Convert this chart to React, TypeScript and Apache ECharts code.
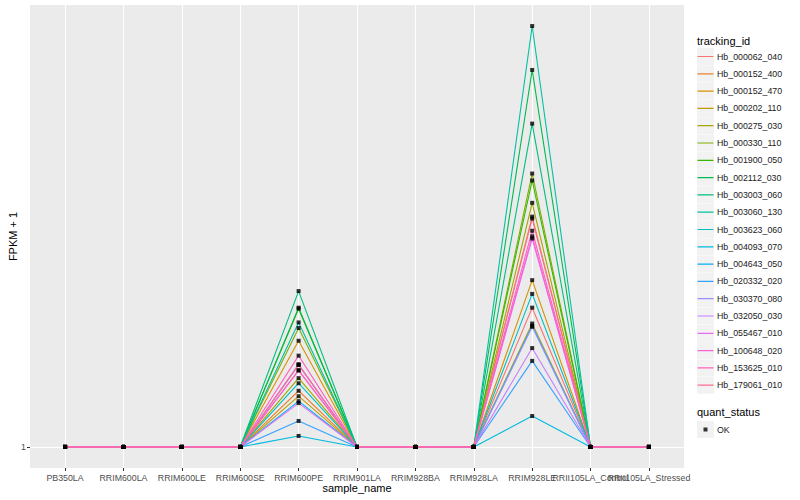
import React, { useEffect, useRef } from "react";
import * as echarts from "echarts";

const categories = [
  "PB350LA", "RRIM600LA", "RRIM600LE", "RRIM600SE", "RRIM600PE", "RRIM901LA",
  "RRIM928BA", "RRIM928LA", "RRIM928LE", "RRII105LA_Control", "RRII105LA_Stressed",
];
const trackingIds = [
  "Hb_000062_040", "Hb_000152_400", "Hb_000152_470", "Hb_000202_110", "Hb_000275_030",
  "Hb_000330_110", "Hb_001900_050", "Hb_002112_030", "Hb_003003_060", "Hb_003060_130",
  "Hb_003623_060", "Hb_004093_070", "Hb_004643_050", "Hb_020332_020", "Hb_030370_080",
  "Hb_032050_030", "Hb_055467_010", "Hb_100648_020", "Hb_153625_010", "Hb_179061_010",
];
const colors = [
  "#F8766D", "#EA8331", "#D89000", "#C09B00", "#A3A500", "#7CAE00", "#39B600", "#00BB4E",
  "#00BF7D", "#00C1A3", "#00BFC4", "#00BAE0", "#00B0F6", "#35A2FF", "#9590FF", "#C77CFF",
  "#E76BF3", "#FA62DB", "#FF62BC", "#FF6C91",
];
// FPKM + 1 in sample RRIM600PE and RRIM928LE (every other sample is 1)
const valuesRRIM600PE = [
  1.46, 1.32, 1.69, 1.285, 1.405, 1.8, 1.98, 1.99, 2.16, 1.85,
  1.37, 1.056, 1.254, 1.137, 1.5, 1.505, 1.242, 1.46, 1.57, 1.5,
];
const valuesRRIM928LE = [
  1.99, 3.12, 2.28, 1.84, 3.34, 3.86, 3.73, 6.44, 4.94, 8.0,
  2.13, 1.165, 1.82, 1.53, 1.81, 1.63, 2.8, 2.83, 2.91, 3.09,
];
const baselineValue = 1;
const yTicks = [1];
const statusLabels = ["OK"];

const FONT = "'Liberation Sans', Arial, Helvetica, sans-serif";

function seriesValues(i: number): number[] {
  return categories.map((c) =>
    c === "RRIM600PE" ? valuesRRIM600PE[i] : c === "RRIM928LE" ? valuesRRIM928LE[i] : baselineValue
  );
}

export default function App() {
  const ref = useRef<HTMLDivElement>(null);
  useEffect(() => {
    if (!ref.current) return;
    const chart = echarts.init(ref.current, undefined, { renderer: "svg" });
    const all = trackingIds.map((_, i) => seriesValues(i));
    const flat = all.flat();
    const top = Math.max(...flat);
    const bottom = Math.min(...flat);
    const lTop = Math.log10(top);
    const lBot = Math.log10(bottom);
    const span = lTop - lBot;
    const yMin = Math.pow(10, lBot - 0.05 * span);
    const yMax = Math.pow(10, lTop + 0.05 * span);
    const n = categories.length;

    // panel (ggplot discrete scale: 0.6 band padding on each side)
    const panelLeft = 30;
    const panelRight = 684;
    const panelTop = 5;
    const panelBottom = 468;
    const unit = (panelRight - panelLeft) / (n - 1 + 1.2);
    const firstX = panelLeft + 0.6 * unit;
    const lastX = firstX + (n - 1) * unit;

    const lineSeries = trackingIds.map((id, i) => ({
      name: id,
      type: "line",
      xAxisIndex: 1,
      yAxisIndex: 1,
      data: all[i],
      showSymbol: false,
      symbol: "none",
      color: colors[i],
      lineStyle: { color: colors[i], width: 1.1 },
      itemStyle: { color: colors[i] },
      z: 2,
      silent: true,
    }));
    const pointData: number[][] = [];
    all.forEach((vals) => vals.forEach((v, j) => pointData.push([j, v])));

    const linePath = "path://M0,0L0,0ZM17,17L17,17ZM0.5,7.9H16.5V9.1H0.5Z";
    const squarePath = "path://M0,0L0,0ZM17,17L17,17ZM6.5,6.5H10.5V10.5H6.5Z";

    const graphics: any[] = [];
    trackingIds.forEach((_, i) => {
      graphics.push({
        type: "rect",
        shape: { x: 697, y: 48 + i * 17.3, width: 17, height: 17 },
        style: { fill: "#F2F2F2" },
        z: -1,
        silent: true,
      });
    });
    graphics.push({
      type: "rect",
      shape: { x: 697, y: 421, width: 17, height: 17 },
      style: { fill: "#F2F2F2" },
      z: -1,
      silent: true,
    });
    graphics.push({
      type: "text",
      x: 697,
      y: 41,
      style: { text: "tracking_id", fontSize: 11, fontFamily: FONT, fill: "#000", verticalAlign: "middle" },
    });
    graphics.push({
      type: "text",
      x: 697,
      y: 412,
      style: { text: "quant_status", fontSize: 11, fontFamily: FONT, fill: "#000", verticalAlign: "middle" },
    });

    const gridCommon = {
      top: panelTop,
      bottom: 500 - panelBottom,
      containLabel: false,
      outerBoundsMode: "none",
      borderWidth: 0,
    };

    chart.setOption({
      animation: false,
      backgroundColor: "#FFFFFF",
      textStyle: { fontFamily: FONT },
      grid: [
        {
          ...gridCommon,
          left: panelLeft,
          right: 800 - panelRight,
          show: true,
          backgroundColor: "#EBEBEB",
        },
        {
          ...gridCommon,
          left: firstX,
          right: 800 - lastX,
          show: false,
        },
      ],
      xAxis: [
        { type: "value", gridIndex: 0, show: false, min: 0, max: 1 },
        {
          type: "category",
          gridIndex: 1,
          data: categories,
          boundaryGap: false,
          axisLine: { show: false },
          axisTick: { show: true, interval: 0, length: 3, lineStyle: { color: "#333333", width: 1 } },
          axisLabel: {
            interval: 0,
            fontSize: 8.8,
            color: "#4D4D4D",
            margin: 5,
            fontFamily: FONT,
          },
          splitLine: { show: true, interval: 0, lineStyle: { color: "#FFFFFF", width: 1.1 } },
          name: "sample_name",
          nameLocation: "middle",
          nameGap: 14,
          nameMoveOverlap: false,
          nameTextStyle: { fontSize: 11, color: "#000000", fontFamily: FONT },
        },
      ],
      yAxis: [
        {
          type: "log",
          gridIndex: 0,
          logBase: 10,
          min: yMin,
          max: yMax,
          axisLine: { show: false },
          axisTick: { show: true, customValues: yTicks, length: 3, lineStyle: { color: "#333333", width: 1 } },
          axisLabel: {
            customValues: yTicks,
            formatter: (v: number) => String(Math.round(v)),
            fontSize: 8.8,
            color: "#4D4D4D",
            margin: 4,
            fontFamily: FONT,
          },
          splitLine: { show: true, lineStyle: { color: "#FFFFFF", width: 1.1 } },
          name: "FPKM + 1",
          nameLocation: "middle",
          nameGap: 12,
          nameRotate: 90,
          nameMoveOverlap: false,
          nameTextStyle: { fontSize: 11, color: "#000000", fontFamily: FONT },
        },
        {
          type: "log",
          gridIndex: 1,
          logBase: 10,
          min: yMin,
          max: yMax,
          show: false,
          splitLine: { show: false },
        },
      ],
      legend: [
        {
          data: trackingIds,
          orient: "vertical",
          left: 697,
          top: 48,
          padding: 0,
          itemWidth: 17,
          itemHeight: 17,
          itemGap: 0.3,
          icon: linePath,
          selectedMode: false,
          textStyle: { fontSize: 8.8, color: "#1A1A1A", fontFamily: FONT, padding: [0, 0, 0, -2] },
        },
        {
          data: statusLabels,
          orient: "vertical",
          left: 697,
          top: 421,
          padding: 0,
          itemWidth: 17,
          itemHeight: 17,
          icon: squarePath,
          selectedMode: false,
          textStyle: { fontSize: 8.8, color: "#1A1A1A", fontFamily: FONT, padding: [0, 0, 0, -2] },
        },
      ],
      graphic: graphics,
      series: [
        ...lineSeries,
        {
          name: statusLabels[0],
          type: "scatter",
          xAxisIndex: 1,
          yAxisIndex: 1,
          data: pointData,
          symbol: "rect",
          symbolSize: 4,
          itemStyle: { color: "#000000" },
          color: "#000000",
          z: 3,
          silent: true,
        },
      ],
    });
    return () => chart.dispose();
  }, []);
  return (
    <div
      ref={ref}
      style={{ position: "fixed", left: 0, top: 0, width: 800, height: 500, background: "#fff" }}
    />
  );
}
